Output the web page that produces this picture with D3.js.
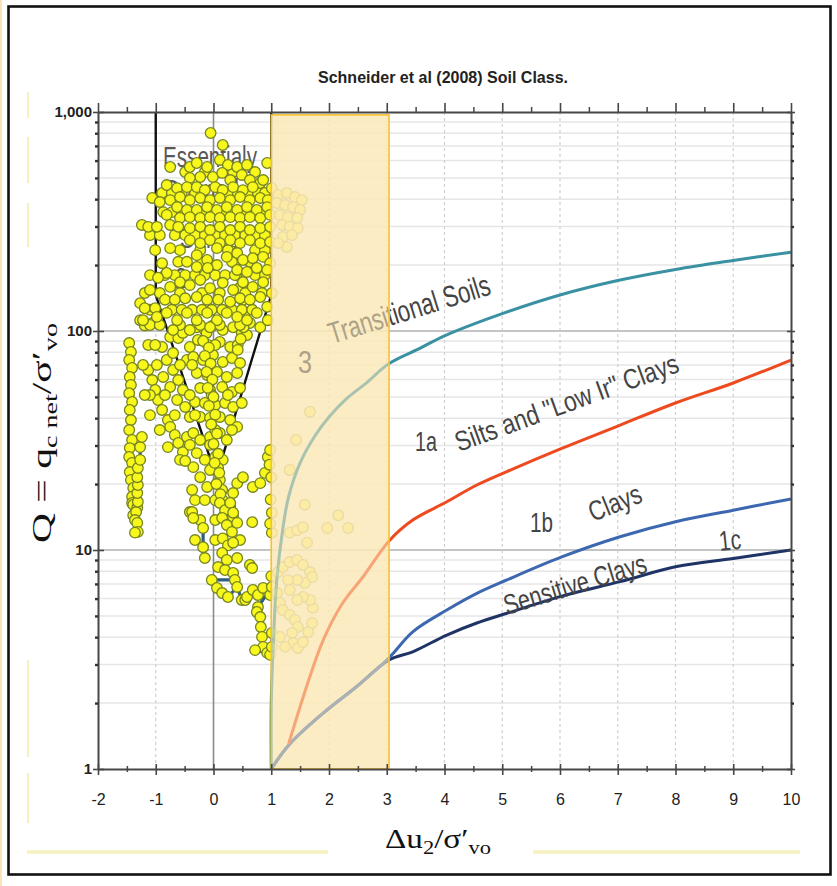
<!DOCTYPE html>
<html>
<head>
<meta charset="utf-8">
<script src="https://cdn.jsdelivr.net/npm/d3@7"></script>
<style>
  html, body { margin: 0; padding: 0; background: #ffffff; }
  svg { display: block; }
</style>
</head>
<body>
<svg id="chart" width="837" height="886"></svg>
<script>
// ---------------- axis ticks ----------------
const xTicks = [-2, -1, 0, 1, 2, 3, 4, 5, 6, 7, 8, 9, 10];
const xTickLabels = ["-2", "-1", "0", "1", "2", "3", "4", "5", "6", "7", "8", "9", "10"];
const yTicks = [1, 10, 100, 1000];
const yTickLabels = ["1", "10", "100", "1,000"];

// ---------------- zone boundary curves [Δu2/σ'vo, Q] ----------------
const curveTransitional = [[1, 1], [1, 2], [1.04, 4], [1.1, 7.5], [1.2, 12.5], [1.3, 17.5], [1.5, 25], [1.75, 33],
  [2, 40.5], [2.3, 49], [2.65, 58], [3.04, 71], [3.58, 83.5], [4, 95], [5, 120], [6, 146], [7, 170], [8, 191], [9, 210], [10, 229]];
const curveSiltsLowIr = [[1.3, 1.3], [1.61, 2.37], [1.9, 3.88], [2.24, 5.74], [2.59, 7.55], [3.04, 11], [3.45, 13.7],
  [4.04, 16.6], [4.56, 19.8], [5.08, 22.8], [6.03, 29.1], [7, 36.8], [8, 46.9], [9, 57.9], [10, 73.7]];
const curveClays = [[1, 1], [1.32, 1.3], [1.9, 1.8], [2.48, 2.38], [3.04, 3.22], [3.45, 4.23], [4.04, 5.32], [4.56, 6.34],
  [5.08, 7.3], [6.03, 9.3], [7.04, 11.5], [8.02, 13.5], [9.0, 15.2], [10, 17.1]];
const curveSensitive = [[1, 1], [1.32, 1.3], [1.9, 1.8], [2.48, 2.38], [3.04, 3.15], [3.45, 3.43], [4.04, 4.09], [4.56, 4.64],
  [5.08, 5.14], [6.03, 6.16], [7.04, 7.17], [8.02, 8.4], [9.0, 9.15], [10, 10.0]];
const zone2Boundary = [[-1, 1000], [-1, 146], [0.05, 21.5], [1, 146], [1, 1000]];

// band of Δu2/σ'vo excluded from classification
const bandX = [1, 3.04];
const bandQ = [1, 970];

// ---------------- CPT sounding [Δu2/σ'vo, Q] ----------------
const cloudUpper = [
  [-0.05, 802], [0.16, 707], [-0.75, 561], [-0.41, 561], [-0.29, 585], [-0.11, 561], [0.11, 604], [0.25, 573], [0.41, 561], [0.58, 573], [0.93, 585],
  [-0.23, 505], [-0.01, 505], [0.15, 527], [0.29, 489], [0.49, 516], [0.63, 489], [0.81, 474], [-0.41, 500], [0.86, 489],
  [-0.81, 464], [-0.63, 449], [-0.46, 454], [-0.29, 454], [-0.15, 440], [0.03, 454], [0.16, 440], [0.34, 454], [0.51, 440], [0.68, 454], [1.01, 449],
  [-1.06, 405], [-0.93, 388], [-0.75, 396], [-0.58, 409], [-0.41, 396], [-0.23, 405], [-0.06, 396], [0.11, 405], [0.29, 396], [0.46, 409], [0.63, 396], [0.81, 405], [0.94, 396],
  [-0.63, 368], [-0.46, 357], [-0.29, 357], [-0.11, 368], [0.06, 357], [0.23, 368], [0.41, 357], [0.58, 368], [0.75, 357], [0.93, 368],
  [-0.81, 339], [-0.58, 328], [-0.41, 331], [-0.23, 328], [-0.06, 331], [0.11, 328], [0.29, 331], [0.46, 328], [0.63, 331], [0.81, 328], [0.98, 339],
  [-1.24, 305], [-1.13, 299], [-0.98, 299], [-0.75, 305], [-0.61, 299], [-0.41, 295], [-0.23, 299], [-0.06, 289], [0.11, 299], [0.29, 289], [0.46, 299], [0.63, 289], [0.81, 295], [0.98, 299],
  [-0.41, 260], [-0.23, 252], [-0.06, 260], [0.11, 252], [0.29, 260], [0.46, 252], [0.63, 260], [0.81, 252], [0.98, 255],
  [-0.75, 239], [0.06, 239], [0.41, 227], [-0.29, 222], [-0.11, 211], [0.06, 200], [0.23, 218], [0.51, 211], [0.68, 215], [0.86, 218], [0.98, 204],
  [-0.89, 204], [-0.81, 184], [-0.29, 196], [-0.10, 194], [0.41, 190], [0.58, 186], [0.75, 194], [0.93, 190],
  [-0.96, 175], [-1.10, 154], [-0.75, 159], [-0.58, 167], [-0.41, 162], [-0.23, 171], [-0.06, 157], [0.16, 166], [0.34, 154], [0.51, 167], [0.68, 159], [0.86, 167], [1.01, 149],
  [-1.27, 134], [-1.19, 127], [-1.01, 127], [-0.84, 139], [-0.67, 139], [-0.49, 141], [-0.29, 143], [-0.11, 139], [0.08, 139], [0.29, 136], [0.46, 141], [0.63, 139], [0.81, 143],
  [-1.22, 112], [-0.98, 116], [-0.81, 121], [-0.63, 112], [-0.46, 121], [-0.29, 112], [-0.11, 121], [0.06, 112], [0.23, 121], [0.41, 116], [0.58, 112], [0.75, 121], [0.93, 129],
  [-0.70, 101], [-0.41, 101], [-0.06, 104]
];
const cloudUpperFill = [
  [-0.49, 532], [-0.15, 532], [0.34, 532], [0.72, 532],
  [-0.89, 427], [-0.72, 427], [-0.55, 427], [-0.32, 427], [0.25, 427], [0.42, 427], [0.60, 427], [0.77, 427], [0.89, 427],
  [-0.87, 349], [-0.72, 349], [-0.55, 349], [-0.35, 349], [-0.20, 349], [-0.01, 349], [0.16, 349], [0.34, 349], [0.51, 349], [0.68, 349], [0.86, 349],
  [-1.10, 274], [-0.93, 274], [-0.67, 274], [-0.49, 274], [-0.32, 274], [-0.15, 274], [0.03, 274], [0.20, 274], [0.37, 274], [0.55, 274], [0.72, 274], [0.89, 274],
  [-1.01, 234], [-0.58, 234], [-0.23, 234], [0.25, 234], [0.72, 234], [0.89, 234],
  [-0.61, 207], [-0.46, 207], [-0.20, 207], [0.32, 207], [0.63, 207],
  [-1.10, 180], [-0.84, 180], [-0.67, 180], [-0.49, 180], [-0.32, 180], [-0.15, 180], [0.03, 180], [0.20, 180], [0.37, 180], [0.72, 180], [0.89, 180],
  [-1.19, 149], [-0.93, 149], [-0.58, 149], [-0.20, 149], [0.11, 149], [0.55, 149], [0.84, 149],
  [-1.10, 125], [-0.72, 125], [-0.55, 125], [-0.37, 125], [-0.20, 125], [-0.03, 125], [0.15, 125], [0.32, 125], [0.49, 125], [0.67, 125],
  [-1.10, 106.5], [-0.93, 106.5], [-0.58, 106.5], [-0.23, 106.5], [0.11, 106.5], [0.46, 106.5]
];
const cloudUpperBand = [
  [1.12, 418], [1.27, 427], [1.41, 409], [1.53, 396], [1.10, 384], [1.24, 376], [1.38, 368], [1.50, 357], [1.15, 339],
  [1.29, 331], [1.45, 328], [1.19, 305], [1.32, 299], [1.46, 295], [1.20, 269], [1.36, 274], [1.27, 242], [1.12, 252]
];
const cloudMiddle = [
  [-1.27, 112], [-1.19, 106], [-1.05, 109],
  [-0.89, 84.5], [-0.75, 93.9], [-0.61, 92.9], [-1.13, 66.4], [-1.06, 59.7], [-1.01, 53.8], [-0.96, 48.4], [-1.10, 51], [-0.89, 43.6], [-0.79, 39.2],
  [-0.81, 73.7], [-0.70, 66.4], [-0.61, 59.7], [-0.53, 53.8], [-0.63, 48.4], [-0.49, 45], [-0.41, 40.5], [-0.75, 55.5], [-0.87, 61.7], [-0.46, 73.7],
  [-0.41, 84.5], [-0.53, 98], [-0.70, 79.3],
  [-0.75, 36.5], [-0.67, 33.5], [-0.61, 30.8], [-0.79, 29.5], [-0.53, 28], [-0.58, 25.8], [-0.46, 32.8],
  [-0.29, 104], [-0.15, 101], [-0.01, 106], [0.16, 101], [0.34, 104], [0.49, 98], [-0.27, 91], [-0.10, 86.3], [0.11, 89.1], [0.29, 84.5], [0.42, 86.3],
  [-0.35, 76.1], [-0.18, 73.7], [-0.01, 77.7], [0.16, 72.2], [0.32, 75.3], [0.46, 71.4], [-0.29, 64.3], [-0.11, 63], [0.06, 65], [0.23, 61.7], [0.41, 64.3],
  [-0.23, 54.9], [-0.06, 53.8], [0.15, 55.5], [0.32, 52.7], [0.46, 54.9], [-0.32, 47.4], [-0.15, 46.9], [0.03, 45.9], [0.20, 46.9], [0.34, 45], [0.49, 46.9],
  [-0.23, 40.5], [-0.06, 40.1], [0.11, 40.5], [0.29, 39.2], [0.41, 36.5],
  [-0.35, 34.2], [-0.23, 31.8], [-0.06, 32.8], [0.11, 34.2], [0.23, 31.8], [-0.29, 27.7], [-0.15, 25.8], [0.03, 26.6], [0.16, 25.8], [-0.35, 23.9],
  [-0.23, 21.5], [-0.11, 19.4], [-0.37, 18.8], [-0.32, 16.9], [-0.41, 14.9], [-0.15, 16.9], [0.08, 23.7], [0.11, 20.9], [0.15, 18.8], [0.16, 16.9], [0.23, 15.6], [0.16, 14.1],
  [0.34, 18.2], [0.41, 20.2], [0.51, 21.5], [0.68, 19.4], [0.81, 20.2], [0.89, 22.5], [0.94, 26.6], [0.98, 28.6], [0.29, 15.9], [0.34, 14.1],
  [0.63, 108.8], [0.81, 104], [0.94, 112], [0.58, 95.9],
  [-1.13, 86.3], [-1.01, 86.3], [0.03, 86.3], [-1.22, 70], [-0.98, 70], [-0.58, 70], [-0.37, 70],
  [-1.19, 51], [-0.84, 51], [-0.41, 51], [-0.03, 51], [0.25, 51], [-1.10, 41.3], [-0.67, 41.3], [-0.32, 41.3],
  [-0.93, 35.3], [0.03, 35.3], [0.32, 35.3], [-0.41, 30.2], [-0.06, 30.2], [-0.49, 25.5], [-0.06, 23.2],
  [0.03, 16.9], [-0.23, 13.7], [0.03, 13.7], [-0.32, 11.1], [0.03, 11.1], [0.46, 11.1]
];
const traceLeft = [
  [-1.46, 88.1], [-1.43, 80.2], [-1.46, 73.7], [-1.41, 67.8], [-1.45, 61.7], [-1.43, 56.7], [-1.46, 52], [-1.41, 47.4], [-1.45, 43.6], [-1.43, 39.2],
  [-1.46, 35.3], [-1.41, 31.8], [-1.45, 29.2], [-1.46, 26.6], [-1.41, 25], [-1.45, 22.7], [-1.43, 20.9], [-1.39, 19.2], [-1.41, 17.5], [-1.41, 16.4],
  [-1.39, 16.1], [-1.32, 15.6], [-1.39, 14.4], [-1.34, 14.9], [-1.36, 13.7], [-1.32, 13.3], [-1.31, 12.1], [-1.36, 12],
  [-1.31, 16.6], [-1.32, 18.2], [-1.31, 19.8], [-1.32, 21.5], [-1.31, 23.7], [-1.27, 25.8], [-1.27, 29.5], [-1.24, 32.8]
];
const traceCore = [
  [-0.12, 98], [-0.18, 90], [-0.08, 84], [-0.15, 77], [-0.05, 71], [-0.12, 65], [-0.02, 60], [-0.10, 55], [0.0, 50], [-0.08, 45.5],
  [0.03, 41.5], [-0.04, 37.5], [0.06, 34], [0.0, 30.5], [0.08, 27.5], [0.02, 25], [0.10, 22.5], [0.05, 20], [0.12, 18]
];
const traceRidge = [[0.30, 232], [0.36, 205], [0.40, 180], [0.46, 158], [0.50, 138], [0.54, 120], [0.52, 104], [0.47, 92], [0.42, 82]];
const traceLowerLeft = [[-0.37, 14.9], [-0.35, 14], [-0.18, 12.6], [-0.18, 10.3], [-0.15, 9.19]];
const traceLower = [
  [0.11, 16.4], [0.20, 15.2], [0.15, 14], [0.23, 13], [0.32, 12.1], [0.16, 11.3], [0.25, 10.5], [0.15, 9.69], [0.23, 9.0], [0.08, 8.36],
  [0.20, 8.1], [0.34, 7.85], [0.37, 7.3], [-0.03, 7.3], [0.06, 6.71], [0.15, 6.36], [0.25, 6.1], [0.41, 6.78], [0.49, 5.91], [0.55, 5.91],
  [0.58, 6.1], [0.68, 6.57], [0.77, 6.23], [0.86, 6.71], [0.98, 6.23], [1.01, 6.78], [0.77, 5.49], [0.75, 5.21], [0.81, 4.94], [0.82, 4.45],
  [0.84, 4.01], [0.86, 3.61], [0.72, 3.49], [0.93, 3.39], [0.98, 3.32], [1.01, 3.61], [1.01, 4.18]
];
const cloudLower = [
  [0.29, 16.4], [0.34, 14.8], [0.41, 13.3], [0.34, 10.8], [0.41, 9.19], [0.63, 8.54], [0.67, 8.27], [0.67, 13.4], [1.01, 14.8], [1.01, 12],
  [0.97, 24.5], [1.0, 21.5], [0.99, 17], [0.98, 13.2], [1.0, 7.6]
];
const cloudLowerBand = [
  [1.12, 7.93], [1.20, 8.36], [1.32, 8.81], [1.45, 9.0], [1.55, 8.54], [1.67, 7.93], [1.71, 7.53], [1.58, 7.07], [1.45, 7.3], [1.29, 7.3],
  [1.32, 6.57], [1.10, 6.36], [1.15, 5.73], [1.20, 5.32], [1.32, 5.05], [1.41, 4.79], [1.46, 4.45], [1.36, 4.18], [1.38, 3.76], [1.46, 3.57],
  [1.55, 3.8], [1.64, 4.22], [1.71, 4.64], [1.72, 5.44], [1.67, 5.91], [1.55, 6.1], [1.45, 5.91], [1.24, 3.61], [1.15, 4.01],
  [1.32, 12], [1.45, 12.3], [1.55, 12.7], [1.62, 10.8], [1.58, 16.1], [1.97, 12.6], [2.16, 14.4], [2.33, 12.6],
  [1.67, 42.8], [1.43, 31.8], [1.32, 23.2]
];

// ---------------- drawing ----------------
const svg = d3.select("#chart");
const W = 837, H = 886;
const x = d3.scaleLinear().domain([-2, 10]).range([98, 791]);
const y = d3.scaleLog().domain([1, 1000]).range([769, 112]);

const SANS = "'Liberation Sans', Arial, sans-serif";
const NARROW = "'Liberation Sans Narrow', 'Arial Narrow', 'Liberation Sans', sans-serif";
const SERIF = "'Liberation Serif', 'DejaVu Serif', serif";
const axisColor = "#474747";

svg.append("rect").attr("width", W).attr("height", H).attr("fill", "#ffffff");
// thin warm edge on the far left
svg.append("line").attr("x1", 1).attr("x2", 1).attr("y1", 0).attr("y2", H)
  .attr("stroke", "#fbe3b8").attr("stroke-width", 2);

// frame
svg.append("rect").attr("x", 8.5).attr("y", 6.5).attr("width", 822).attr("height", 868)
  .attr("fill", "#ffffff").attr("stroke", "#111").attr("stroke-width", 2.6);

// pale yellow rules inside the frame
const rule = svg.append("g").attr("stroke", "#f6f2bf").attr("fill", "none");
[[92, 118], [137, 183], [203, 247], [660, 757], [773, 823]].forEach(([a, b]) =>
  rule.append("line").attr("x1", 28).attr("x2", 28).attr("y1", a).attr("y2", b).attr("stroke-width", 2));
[[27, 328], [533, 800]].forEach(([a, b]) =>
  rule.append("line").attr("x1", a).attr("x2", b).attr("y1", 852).attr("y2", 852).attr("stroke-width", 3.5));

// horizontal gridlines (log minor + major)
const grid = svg.append("g");
y.ticks().filter(v => v > 1 && v < 1000).forEach(v => {
  const major = Math.abs(Math.log10(v) - Math.round(Math.log10(v))) < 1e-9;
  grid.append("line").attr("x1", x(-2)).attr("x2", x(10)).attr("y1", y(v)).attr("y2", y(v))
    .attr("stroke", major ? "#c4c4c4" : "#e6e6e6").attr("stroke-width", major ? 2 : 1.5);
});
// vertical gridlines
xTicks.filter(v => v > -2 && v < 10).forEach(v => {
  const l = grid.append("line").attr("x1", x(v)).attr("x2", x(v)).attr("y1", y(1000)).attr("y2", y(1));
  if (v === 0) l.attr("stroke", "#8a8a8a").attr("stroke-width", 1.6);
  else l.attr("stroke", "#cfcfcf").attr("stroke-width", 1.2).attr("stroke-dasharray", "3,3");
});

// zone captions
function caption(g, txt, tx, ty, size, len, rot) {
  const t = g.append("text").attr("transform", `translate(${tx},${ty}) rotate(${rot || 0})`)
    .attr("font-size", size).text(txt);
  if (len) t.attr("textLength", len).attr("lengthAdjust", "spacingAndGlyphs");
  return t;
}
const cap = svg.append("g").attr("font-family", SANS).attr("fill", "#585858");
caption(cap, "Essentialy", 163, 167, 30, 94);
caption(cap, "Drained", 165, 200, 30, 74);
caption(cap, "Sands", 180, 248, 30, 60);
caption(cap, "2", 175, 288, 30, 12);

// boundary curves and the captions lying across the band
const line = d3.line().x(d => x(d[0])).y(d => y(d[1])).curve(d3.curveCatmullRom.alpha(0.5));
function drawCurves(g) {
  const c = g.append("g").attr("fill", "none").attr("stroke-width", 3).attr("stroke-linejoin", "round");
  c.append("path").datum(curveSensitive).attr("d", line).attr("stroke", "#1f3366");
  c.append("path").datum(curveClays).attr("d", line).attr("stroke", "#3d68b0");
  c.append("path").datum(curveSiltsLowIr).attr("d", line).attr("stroke", "#ee4a1f");
  c.append("path").datum(curveTransitional).attr("d", line).attr("stroke", "#3a91a2");
  const t = g.append("g").attr("font-family", SANS).attr("fill", "#444");
  caption(t, "3", 298, 373, 32, 14);
  caption(t, "Transitional Soils", 332, 344, 30, 168, -17.3);
}
drawCurves(svg.append("g"));

// curve captions
const cap2 = svg.append("g").attr("font-family", SANS).attr("fill", "#444");
caption(cap2, "1a", 415, 451, 28, 22);
caption(cap2, "Silts and \"Low Ir\" Clays", 459, 452, 28, 236, -20);
caption(cap2, "1b", 530, 532, 28, 23);
caption(cap2, "Clays", 593, 522, 28, 55, -22);
caption(cap2, "1c", 720, 551, 28, 22, -6);
caption(cap2, "Sensitive Clays", 507, 615, 28, 148, -17);

// zone 2 outline
svg.append("path").datum(zone2Boundary)
  .attr("d", d3.line().x(d => x(d[0])).y(d => y(d[1])))
  .attr("fill", "none").attr("stroke", "#111").attr("stroke-width", 2.4);

// sounding: trace lines then markers
const traceLine = d3.line().x(d => x(d[0])).y(d => y(d[1]));
const traces = [traceLeft, traceCore, traceRidge, traceLowerLeft, traceLower];
const tg = svg.append("g").attr("fill", "none").attr("stroke", "#2c5d7e").attr("stroke-width", 3.2)
  .attr("stroke-linejoin", "round");
traces.forEach(s => tg.append("path").datum(s).attr("d", traceLine));

const pts = [].concat(traceLeft, cloudMiddle, traceCore, traceRidge, cloudUpperFill, cloudUpper, cloudUpperBand,
  traceLowerLeft, traceLower, cloudLower, cloudLowerBand);
svg.append("g").selectAll("circle").data(pts).join("circle")
  .attr("cx", d => x(d[0])).attr("cy", d => y(d[1])).attr("r", 5.3)
  .attr("fill", "#f7f71c").attr("stroke", "#76841f").attr("stroke-width", 1.3);

// translucent band
const bx0 = x(bandX[0]), bx1 = x(bandX[1]), by0 = y(bandQ[1]), by1 = y(bandQ[0]);
svg.append("rect").attr("x", bx0).attr("y", by0).attr("width", bx1 - bx0).attr("height", by1 - by0)
  .attr("fill", "#fce9ba").attr("fill-opacity", 0.86);
// curves show faintly through the band
svg.append("clipPath").attr("id", "bandClip").append("rect")
  .attr("x", bx0).attr("y", by0).attr("width", bx1 - bx0).attr("height", by1 - by0);
drawCurves(svg.append("g").attr("clip-path", "url(#bandClip)").attr("opacity", 0.33));
svg.append("rect").attr("x", bx0).attr("y", by0).attr("width", bx1 - bx0).attr("height", by1 - by0)
  .attr("fill", "none").attr("stroke", "#f7c12e").attr("stroke-width", 1.6);

// ---------------- axes ----------------
function styleAxis(g) {
  g.select(".domain").attr("stroke", axisColor).attr("stroke-width", 2);
  g.selectAll(".tick line").attr("stroke", axisColor).attr("stroke-width", 1.6);
}
const halfTicks = d3.range(-1.5, 10, 1);
const minorQ = y.ticks().filter(v => yTicks.indexOf(v) < 0);

// bottom
const gB = svg.append("g").attr("transform", `translate(0,${y(1)})`)
  .call(d3.axisBottom(x).tickValues(xTicks).tickFormat((d, i) => xTickLabels[i]).tickSizeInner(6).tickSizeOuter(0).tickPadding(19));
styleAxis(gB);
gB.selectAll(".tick line").attr("y1", -5);
gB.selectAll(".tick text").attr("font-family", NARROW).attr("font-size", 16).attr("fill", "#222");
const gBm = svg.append("g").attr("transform", `translate(0,${y(1)})`)
  .call(d3.axisBottom(x).tickValues(halfTicks).tickFormat("").tickSizeInner(3).tickSizeOuter(0));
gBm.select(".domain").remove();
gBm.selectAll(".tick line").attr("y1", -3).attr("stroke", axisColor).attr("stroke-width", 1.5);

// top
const gT = svg.append("g").attr("transform", `translate(0,${y(1000)})`)
  .call(d3.axisTop(x).tickValues(xTicks).tickFormat("").tickSizeInner(9).tickSizeOuter(0));
styleAxis(gT);
const gTm = svg.append("g").attr("transform", `translate(0,${y(1000)})`)
  .call(d3.axisTop(x).tickValues(halfTicks).tickFormat("").tickSizeInner(5).tickSizeOuter(0));
gTm.select(".domain").remove();
gTm.selectAll(".tick line").attr("stroke", axisColor).attr("stroke-width", 1.5);

// left
const gL = svg.append("g").attr("transform", `translate(${x(-2)},0)`)
  .call(d3.axisLeft(y).tickValues(yTicks).tickFormat((d, i) => yTickLabels[i]).tickSizeInner(5).tickSizeOuter(0).tickPadding(1));
styleAxis(gL);
gL.selectAll(".tick line").attr("x1", 6);
gL.selectAll(".tick text").attr("font-family", NARROW).attr("font-size", 15).attr("font-weight", "bold").attr("fill", "#222");
const gLm = svg.append("g").attr("transform", `translate(${x(-2)},0)`)
  .call(d3.axisLeft(y).tickValues(minorQ).tickFormat("").tickSizeInner(3).tickSizeOuter(0));
gLm.select(".domain").remove();
gLm.selectAll(".tick line").attr("stroke", "#333").attr("stroke-width", 2.4);

// right
const gR = svg.append("g").attr("transform", `translate(${x(10)},0)`)
  .call(d3.axisRight(y).tickValues(yTicks).tickFormat("").tickSizeInner(4).tickSizeOuter(0));
styleAxis(gR);
gR.selectAll(".tick line").attr("x1", -4);
const gRm = svg.append("g").attr("transform", `translate(${x(10)},0)`)
  .call(d3.axisRight(y).tickValues(minorQ).tickFormat("").tickSizeInner(3).tickSizeOuter(0));
gRm.select(".domain").remove();
gRm.selectAll(".tick line").attr("stroke", "#333").attr("stroke-width", 2.4);

// ---------------- titles ----------------
svg.append("text").attr("x", 443).attr("y", 83).attr("text-anchor", "middle")
  .attr("font-family", SANS).attr("font-weight", "bold").attr("font-size", 17).attr("fill", "#222")
  .attr("textLength", 250).attr("lengthAdjust", "spacingAndGlyphs")
  .text("Schneider et al (2008) Soil Class.");

// y label: Q = q_c net / σ'_vo
const yl = svg.append("text").attr("transform", "translate(51,433) rotate(-90)")
  .attr("text-anchor", "middle").attr("font-family", SERIF).attr("fill", "#111")
  .attr("textLength", 220).attr("lengthAdjust", "spacingAndGlyphs");
yl.append("tspan").attr("font-size", 28).text("Q = q");
yl.append("tspan").attr("font-size", 19).attr("dy", 6).text("c net");
yl.append("tspan").attr("font-size", 28).attr("dy", -6).text("/σ′");
yl.append("tspan").attr("font-size", 19).attr("dy", 6).text("vo");

// x label: Δu_2 / σ'_vo
const xl = svg.append("text").attr("x", 385).attr("y", 848)
  .attr("font-family", SERIF).attr("fill", "#111")
  .attr("textLength", 106).attr("lengthAdjust", "spacingAndGlyphs");
xl.append("tspan").attr("font-size", 28).text("Δu");
xl.append("tspan").attr("font-size", 19).attr("dy", 6).text("2");
xl.append("tspan").attr("font-size", 28).attr("dy", -6).text("/σ′");
xl.append("tspan").attr("font-size", 19).attr("dy", 6).text("vo");
</script>
</body>
</html>
